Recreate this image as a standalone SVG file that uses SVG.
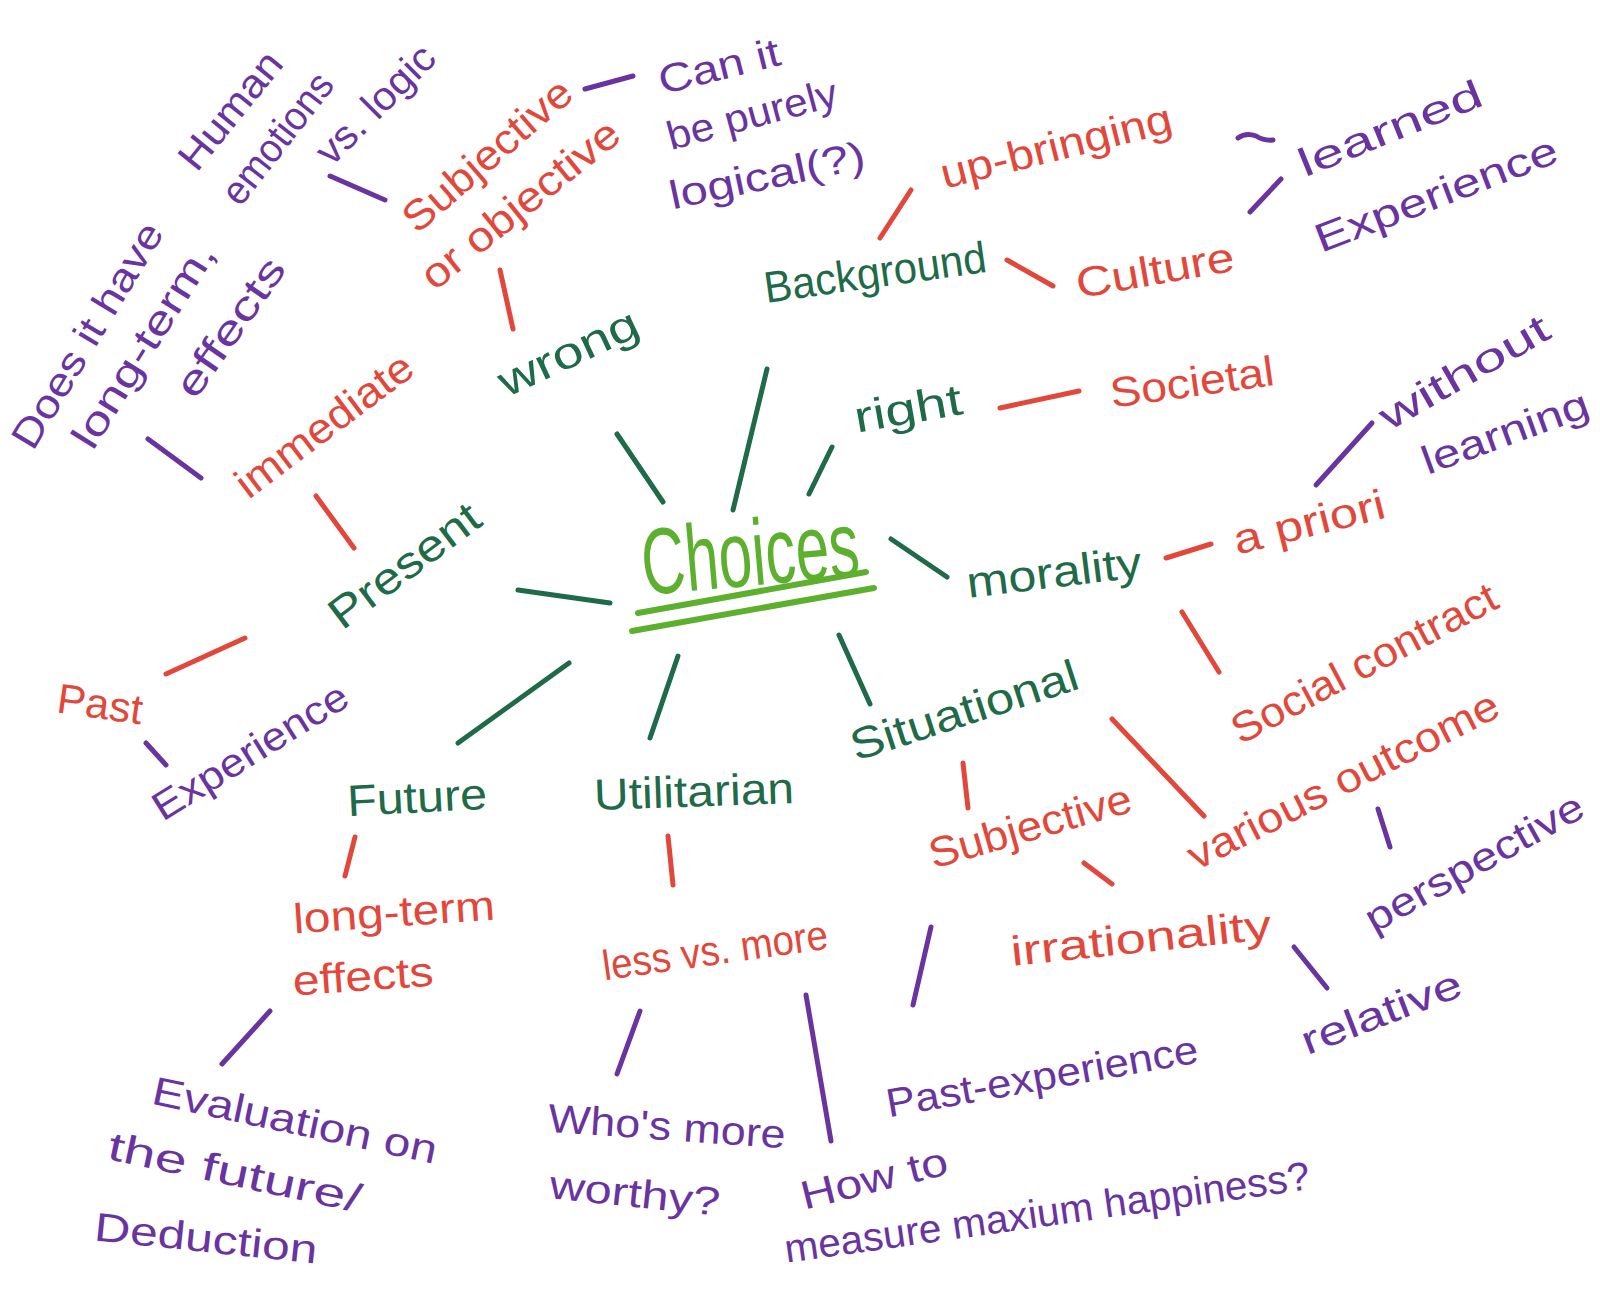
<svg xmlns="http://www.w3.org/2000/svg" width="1600" height="1295" viewBox="0 0 1600 1295">
<style>
text{font-family:"Liberation Sans","Noto Sans",sans-serif;text-anchor:middle;dominant-baseline:central}
.g{fill:#1f6a48;font-size:44px}
.r{fill:#e2473b;font-size:42px}
.p{fill:#6a34a0;font-size:40px}
.c{fill:#5cb02e;font-size:94px}
line,path{stroke-width:5;stroke-linecap:round;fill:none}
.lg{stroke:#1f6a48}.lr{stroke:#e2473b}.lp{stroke:#6a34a0}.lc{stroke:#5cb02e;stroke-width:6}
</style>
<rect width="1600" height="1295" fill="#ffffff"/>
<g id="connectors">
<line class="lg" x1="617" y1="434" x2="663" y2="502"/>
<line class="lg" x1="767" y1="369" x2="733" y2="510"/>
<line class="lg" x1="832" y1="447" x2="809" y2="494"/>
<line class="lg" x1="891" y1="539" x2="947" y2="577"/>
<line class="lg" x1="518" y1="590" x2="610" y2="603"/>
<line class="lg" x1="569" y1="663" x2="458" y2="743"/>
<line class="lg" x1="678" y1="656" x2="650" y2="738"/>
<line class="lg" x1="839" y1="635" x2="870" y2="704"/>
<line class="lr" x1="500" y1="270" x2="513" y2="329"/>
<line class="lr" x1="316" y1="496" x2="354" y2="548"/>
<line class="lr" x1="166" y1="674" x2="245" y2="638"/>
<line class="lr" x1="880" y1="238" x2="911" y2="190"/>
<line class="lr" x1="1007" y1="260" x2="1053" y2="286"/>
<line class="lr" x1="1000" y1="408" x2="1079" y2="391"/>
<line class="lr" x1="1166" y1="558" x2="1211" y2="544"/>
<line class="lr" x1="1182" y1="612" x2="1219" y2="672"/>
<line class="lr" x1="355" y1="837" x2="345" y2="876"/>
<line class="lr" x1="668" y1="836" x2="673" y2="885"/>
<line class="lr" x1="963" y1="763" x2="968" y2="808"/>
<line class="lr" x1="1112" y1="719" x2="1204" y2="816"/>
<line class="lr" x1="1084" y1="863" x2="1112" y2="884"/>
<line class="lp" x1="330" y1="176" x2="385" y2="200"/>
<line class="lp" x1="585" y1="89" x2="633" y2="76"/>
<path class="lp" d="M1238 138 Q1246 132 1256 136 Q1264 141 1273 140"/>
<line class="lp" x1="1250" y1="212" x2="1281" y2="179"/>
<line class="lp" x1="1316" y1="485" x2="1372" y2="423"/>
<line class="lp" x1="148" y1="439" x2="201" y2="478"/>
<line class="lp" x1="146" y1="743" x2="166" y2="765"/>
<line class="lp" x1="270" y1="1011" x2="222" y2="1064"/>
<line class="lp" x1="640" y1="1011" x2="617" y2="1074"/>
<line class="lp" x1="806" y1="995" x2="831" y2="1141"/>
<line class="lp" x1="931" y1="927" x2="913" y2="1005"/>
<line class="lp" x1="1378" y1="809" x2="1390" y2="847"/>
<line class="lp" x1="1294" y1="947" x2="1327" y2="988"/>
</g>
<g id="choices">
<text class="c" transform="translate(750,553) rotate(-5)" textLength="218" lengthAdjust="spacingAndGlyphs">Choices</text>
<line class="lc" x1="638" y1="613" x2="866" y2="572"/>
<line class="lc" x1="632" y1="631" x2="874" y2="588"/>
</g>
<g id="wrong"><text class="g" transform="translate(568,352) rotate(-25)" textLength="150" lengthAdjust="spacingAndGlyphs">wrong</text></g>
<g id="background"><text class="g" transform="translate(875,272) rotate(-8)" textLength="224" lengthAdjust="spacingAndGlyphs">Background</text></g>
<g id="right"><text class="g" transform="translate(908,408) rotate(-10)" textLength="109" lengthAdjust="spacingAndGlyphs">right</text></g>
<g id="morality"><text class="g" transform="translate(1054,572) rotate(-7)" textLength="176" lengthAdjust="spacingAndGlyphs">morality</text></g>
<g id="present"><text class="g" transform="translate(404,565) rotate(-37)" textLength="178" lengthAdjust="spacingAndGlyphs">Present</text></g>
<g id="future"><text class="g" transform="translate(417,797) rotate(-3)" textLength="140" lengthAdjust="spacingAndGlyphs">Future</text></g>
<g id="utilitarian"><text class="g" transform="translate(694,791) rotate(-2)" textLength="200" lengthAdjust="spacingAndGlyphs">Utilitarian</text></g>
<g id="situational"><text class="g" transform="translate(964,710) rotate(-18)" textLength="237" lengthAdjust="spacingAndGlyphs">Situational</text></g>
<g id="subjective-or-objective">
<text class="r" transform="translate(487,155) rotate(-41)" textLength="210" lengthAdjust="spacingAndGlyphs">Subjective</text>
<text class="r" transform="translate(520,204) rotate(-39)" textLength="243" lengthAdjust="spacingAndGlyphs">or objective</text>
</g>
<g id="immediate"><text class="r" transform="translate(324,425) rotate(-37)" textLength="211" lengthAdjust="spacingAndGlyphs">immediate</text></g>
<g id="past"><text class="r" transform="translate(100,704) rotate(8)" textLength="86" lengthAdjust="spacingAndGlyphs">Past</text></g>
<g id="up-bringing"><text class="r" transform="translate(1056,146) rotate(-14)" textLength="237" lengthAdjust="spacingAndGlyphs">up-bringing</text></g>
<g id="culture"><text class="r" transform="translate(1155,270) rotate(-10)" textLength="160" lengthAdjust="spacingAndGlyphs">Culture</text></g>
<g id="societal"><text class="r" transform="translate(1192,382) rotate(-8)" textLength="165" lengthAdjust="spacingAndGlyphs">Societal</text></g>
<g id="a-priori"><text class="r" transform="translate(1309,522) rotate(-14)" textLength="155" lengthAdjust="spacingAndGlyphs">a priori</text></g>
<g id="social-contract"><text class="r" transform="translate(1364,663) rotate(-28)" textLength="295" lengthAdjust="spacingAndGlyphs">Social contract</text></g>
<g id="various-outcome"><text class="r" transform="translate(1343,780) rotate(-27)" textLength="344" lengthAdjust="spacingAndGlyphs">various outcome</text></g>
<g id="subjective"><text class="r" transform="translate(1030,826) rotate(-16)" textLength="209" lengthAdjust="spacingAndGlyphs">Subjective</text></g>
<g id="irrationality"><text class="r" transform="translate(1141,938) rotate(-6)" textLength="262" lengthAdjust="spacingAndGlyphs">irrationality</text></g>
<g id="long-term-effects">
<text class="r" transform="translate(394,912) rotate(-4)" textLength="202" lengthAdjust="spacingAndGlyphs">long-term</text>
<text class="r" transform="translate(363,976) rotate(-4)" textLength="141" lengthAdjust="spacingAndGlyphs">effects</text>
</g>
<g id="less-vs-more"><text class="r" transform="translate(715,950) rotate(-8)" textLength="227" lengthAdjust="spacingAndGlyphs">less vs. more</text></g>
<g id="human-emotions">
<text class="p" transform="translate(230,110) rotate(-51)" textLength="140" lengthAdjust="spacingAndGlyphs">Human</text>
<text class="p" transform="translate(277,138) rotate(-52)" textLength="155" lengthAdjust="spacingAndGlyphs">emotions</text>
<text class="p" transform="translate(375,104) rotate(-45)" textLength="151" lengthAdjust="spacingAndGlyphs">vs. logic</text>
</g>
<g id="can-it">
<text class="p" transform="translate(719,66) rotate(-14)" textLength="124" lengthAdjust="spacingAndGlyphs">Can it</text>
<text class="p" transform="translate(752,114) rotate(-15)" textLength="175" lengthAdjust="spacingAndGlyphs">be purely</text>
<text class="p" transform="translate(767,175) rotate(-12)" textLength="199" lengthAdjust="spacingAndGlyphs">logical(?)</text>
</g>
<g id="learned-experience">
<text class="p" transform="translate(1390,128) rotate(-22)" textLength="195" lengthAdjust="spacingAndGlyphs">learned</text>
<text class="p" transform="translate(1436,194) rotate(-21)" textLength="257" lengthAdjust="spacingAndGlyphs">Experience</text>
</g>
<g id="without-learning">
<text class="p" transform="translate(1464,372) rotate(-30)" textLength="190" lengthAdjust="spacingAndGlyphs">without</text>
<text class="p" transform="translate(1505,432) rotate(-20)" textLength="175" lengthAdjust="spacingAndGlyphs">learning</text>
</g>
<g id="does-it-have">
<text class="p" transform="translate(87,335) rotate(-59)" textLength="256" lengthAdjust="spacingAndGlyphs">Does it have</text>
<text class="p" transform="translate(143,345) rotate(-58)" textLength="234" lengthAdjust="spacingAndGlyphs">long-term,</text>
<text class="p" transform="translate(230,327) rotate(-55)" textLength="161" lengthAdjust="spacingAndGlyphs">effects</text>
</g>
<g id="experience"><text class="p" transform="translate(250,751) rotate(-32)" textLength="223" lengthAdjust="spacingAndGlyphs">Experience</text></g>
<g id="perspective"><text class="p" transform="translate(1474,862) rotate(-29)" textLength="244" lengthAdjust="spacingAndGlyphs">perspective</text></g>
<g id="relative"><text class="p" transform="translate(1381,1012) rotate(-21)" textLength="169" lengthAdjust="spacingAndGlyphs">relative</text></g>
<g id="past-experience"><text class="p" transform="translate(1042,1076) rotate(-10)" textLength="316" lengthAdjust="spacingAndGlyphs">Past-experience</text></g>
<g id="evaluation">
<text class="p" transform="translate(295,1120) rotate(12)" textLength="290" lengthAdjust="spacingAndGlyphs">Evaluation on</text>
<text class="p" transform="translate(235,1172) rotate(12)" textLength="258" lengthAdjust="spacingAndGlyphs">the future/</text>
<text class="p" transform="translate(206,1238) rotate(6)" textLength="224" lengthAdjust="spacingAndGlyphs">Deduction</text>
</g>
<g id="whos-more-worthy">
<text class="p" transform="translate(667,1126) rotate(4)" textLength="238" lengthAdjust="spacingAndGlyphs">Who's more</text>
<text class="p" transform="translate(635,1193) rotate(6)" textLength="171" lengthAdjust="spacingAndGlyphs">worthy?</text>
</g>
<g id="how-to-measure">
<text class="p" transform="translate(874,1178) rotate(-14)" textLength="150" lengthAdjust="spacingAndGlyphs">How to</text>
<text class="p" transform="translate(1047,1212) rotate(-8)" textLength="530" lengthAdjust="spacingAndGlyphs">measure maxium happiness?</text>
</g>
</svg>
